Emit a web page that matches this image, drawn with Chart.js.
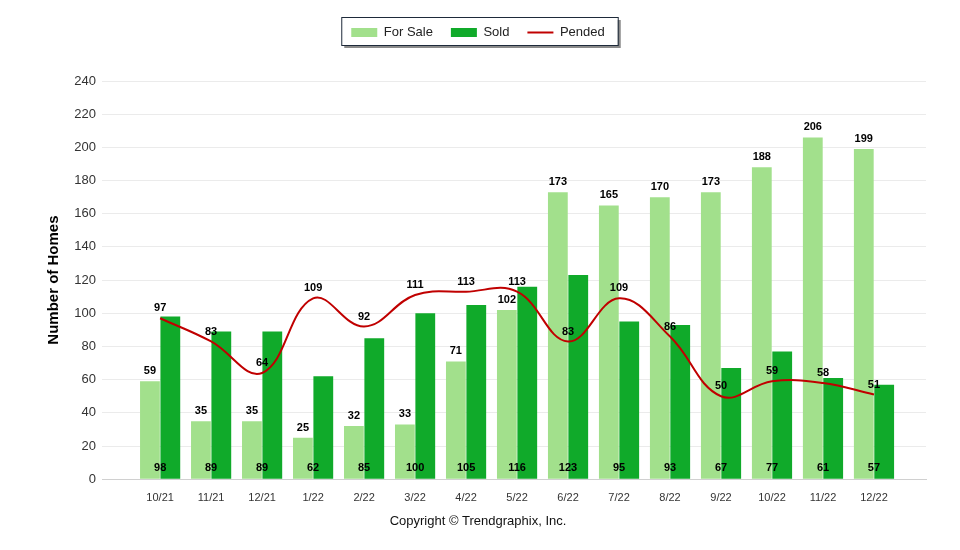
<!DOCTYPE html>
<html>
<head>
<meta charset="utf-8">
<script src="https://cdn.jsdelivr.net/npm/chart.js@4"></script>
<style>
  html, body { margin: 0; padding: 0; background: #fff; }
  #wrap { width: 960px; height: 550px; }
</style>
</head>
<body>
<div id="wrap"><canvas id="homes-chart" width="960" height="550"></canvas></div>
<script>
const months = ['10/21', '11/21', '12/21', '1/22', '2/22', '3/22', '4/22', '5/22',
                '6/22', '7/22', '8/22', '9/22', '10/22', '11/22', '12/22'];
const forSale = [59, 35, 35, 25, 32, 33, 71, 102, 173, 165, 170, 173, 188, 206, 199];
const sold = [98, 89, 89, 62, 85, 100, 105, 116, 123, 95, 93, 67, 77, 61, 57];
const pended = [97, 83, 64, 109, 92, 111, 113, 113, 83, 109, 86, 50, 59, 58, 51];
const yTicks = [0, 20, 40, 60, 80, 100, 120, 140, 160, 180, 200, 220, 240];

const labelFont = "bold 11px 'Liberation Sans Narrow', 'Liberation Sans', sans-serif";

// box with a drop shadow behind the legend, plus extra room under it
const legendBox = {
    id: 'legendBox',
    afterInit(chart) {
        const legend = chart.legend;
        if (!legend) return;
        const fit = legend.fit;
        legend.fit = function () {
            fit.call(this);
            this.height += 32;
        };
    },
    beforeDraw(chart) {
        const boxes = chart.legend && chart.legend.legendHitBoxes;
        if (!boxes || !boxes.length) return;
        const left = Math.min(...boxes.map(b => b.left)) - 10;
        const right = Math.max(...boxes.map(b => b.left + b.width)) + 13;
        const top = Math.min(...boxes.map(b => b.top)) - 9;
        const bottom = Math.max(...boxes.map(b => b.top + b.height)) + 6;
        const ctx = chart.ctx;
        ctx.save();
        ctx.fillStyle = '#8a8a8a';
        ctx.fillRect(left + 3, top + 3, right - left, bottom - top);
        ctx.fillStyle = '#fff';
        ctx.fillRect(left, top, right - left, bottom - top);
        ctx.strokeStyle = '#1e2a3a';
        ctx.lineWidth = 1;
        ctx.strokeRect(left + 0.5, top + 0.5, right - left, bottom - top);
        ctx.restore();
    }
};

// numbers over the bars and the line
const valueLabels = {
    id: 'valueLabels',
    afterDatasetsDraw(chart) {
        const { ctx, scales: { x, y } } = chart;
        ctx.save();
        ctx.font = labelFont;
        ctx.fillStyle = '#000';
        ctx.textAlign = 'center';
        ctx.textBaseline = 'middle';
        chart.getDatasetMeta(0).data.forEach((bar, i) => {
            ctx.fillText(forSale[i], bar.x, bar.y - 10);
        });
        sold.forEach((v, i) => {
            ctx.fillText(v, x.getPixelForValue(i), y.getPixelForValue(0) - 11);
        });
        pended.forEach((v, i) => {
            ctx.fillText(v, x.getPixelForValue(i), y.getPixelForValue(v) - 10);
        });
        ctx.restore();
    }
};

const ctx = document.getElementById('homes-chart').getContext('2d');
new Chart(ctx, {
    type: 'bar',
    data: {
        datasets: [
            {
                label: 'For Sale',
                data: forSale.map((v, i) => ({ x: i, y: v })),
                backgroundColor: '#a2e08c',
                borderWidth: 0,
                pointStyle: 'rect',
                categoryPercentage: 0.8,
                barPercentage: 0.97,
                order: 2
            },
            {
                label: 'Sold',
                data: sold.map((v, i) => ({ x: i, y: v })),
                backgroundColor: '#10aa2a',
                borderWidth: 0,
                pointStyle: 'rect',
                categoryPercentage: 0.8,
                barPercentage: 0.97,
                order: 2
            },
            {
                type: 'line',
                label: 'Pended',
                data: pended.map((v, i) => ({ x: i, y: v })),
                borderColor: '#c00000',
                backgroundColor: '#c00000',
                borderWidth: 2,
                pointRadius: 0,
                pointStyle: 'line',
                tension: 0.4,
                fill: false,
                order: 1
            }
        ]
    },
    options: {
        responsive: false,
        animation: false,
        layout: { padding: { left: 30, right: 34, top: 8, bottom: 16 } },
        scales: {
            x: {
                type: 'linear',
                offset: false,
                min: -1.14,
                max: 15.02,
                grid: { display: false },
                border: { display: true, color: '#d0d0d0' },
                afterBuildTicks: (scale) => {
                    scale.ticks = months.map((m, i) => ({ value: i }));
                },
                ticks: {
                    autoSkip: false,
                    maxRotation: 0,
                    padding: 4,
                    color: '#333',
                    font: { family: "'Liberation Sans', sans-serif", size: 11 },
                    callback: (v) => months[v]
                }
            },
            y: {
                min: 0,
                max: 240,
                afterFit: (scale) => { scale.width = 72; },
                afterBuildTicks: (scale) => {
                    scale.ticks = yTicks.map(v => ({ value: v }));
                },
                grid: { color: '#ebebeb', drawTicks: false },
                border: { display: false },
                ticks: {
                    padding: 6,
                    color: '#333',
                    font: { family: "'Liberation Sans', sans-serif", size: 13 }
                },
                title: {
                    display: true,
                    text: 'Number of Homes',
                    color: '#000',
                    padding: { top: 15, bottom: 0 },
                    font: { family: "'Liberation Sans', sans-serif", size: 15, weight: 'bold' }
                }
            }
        },
        plugins: {
            legend: {
                position: 'top',
                labels: {
                    usePointStyle: true,
                    pointStyleWidth: 26,
                    boxHeight: 9,
                    padding: 18,
                    color: '#222',
                    font: { family: "'Liberation Sans', sans-serif", size: 13 },
                    sort: (a, b) => a.datasetIndex - b.datasetIndex
                }
            },
            title: {
                display: true,
                position: 'bottom',
                text: 'Copyright © Trendgraphix, Inc.',
                color: '#111',
                padding: { top: 5, bottom: 5 },
                font: { family: "'Liberation Sans', sans-serif", size: 13, weight: 'normal' }
            },
            tooltip: { enabled: false }
        }
    },
    plugins: [legendBox, valueLabels]
});
</script>
</body>
</html>
